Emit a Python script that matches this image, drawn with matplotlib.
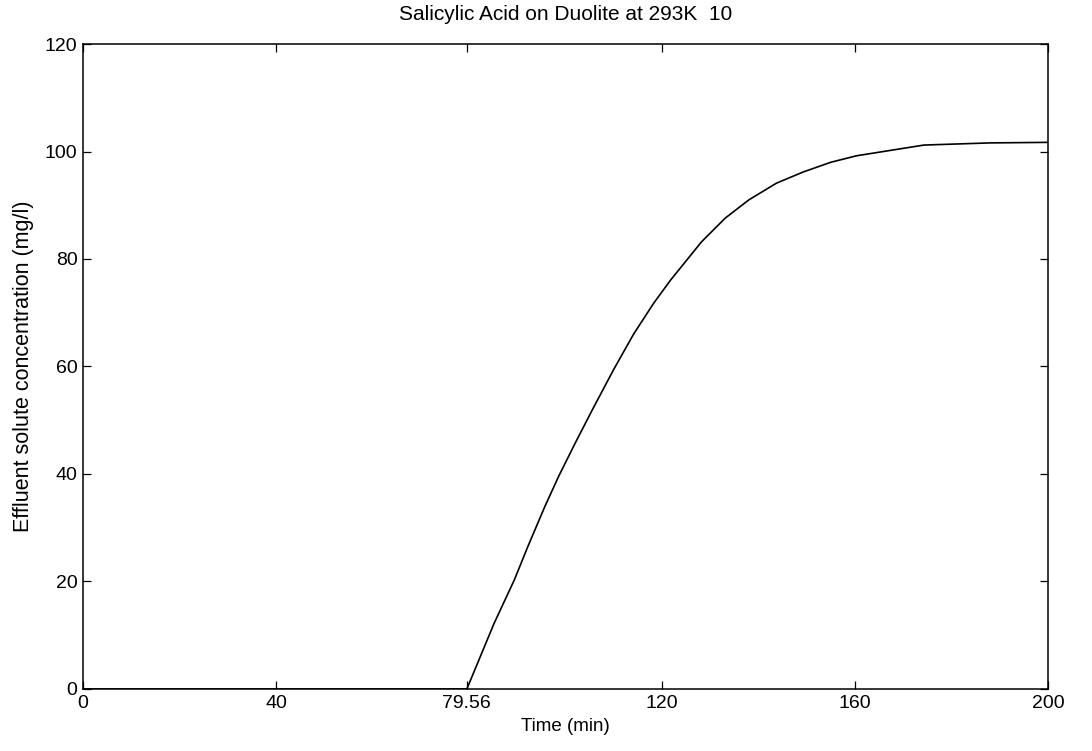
"""Breakthrough curve for salicylic acid on Duolite at 293 K."""

import matplotlib

matplotlib.use("Agg")

import matplotlib.pyplot as plt

plt.rcParams["font.family"] = ["Liberation Sans", "DejaVu Sans"]

# effluent concentration vs time
time_min = [0.0, 79.56, 85.2, 89.4, 92.2, 95.7, 98.6, 102.1, 105.6, 109.9, 114.1,
            118.3, 121.8, 128.2, 133.1, 138.0, 143.7, 149.3, 155.0, 160.3,
            174.3, 188.0, 200.0]
conc_mg_l = [0.0, 0.0, 12.2, 20.3, 26.5, 33.9, 39.6, 45.9, 52.0, 59.3, 66.0,
             71.8, 76.1, 83.2, 87.6, 91.0, 94.1, 96.2, 98.0, 99.2,
             101.2, 101.6, 101.7]

x_ticks = [0, 40, 79.56, 120, 160, 200]
x_tick_labels = ["0", "40", "79.56", "120", "160", "200"]
y_ticks = [0, 20, 40, 60, 80, 100, 120]

fig = plt.figure(figsize=(10.92, 7.51), dpi=100)
ax = fig.add_axes([0.076, 0.0826, 0.8837, 0.8588])

ax.plot(time_min, conc_mg_l, color="black", linewidth=1.2)

ax.set_xlim(0, 200)
ax.set_ylim(0, 120)
ax.set_xticks(x_ticks)
ax.set_xticklabels(x_tick_labels)
ax.set_yticks(y_ticks)
ax.tick_params(direction="in", length=6, width=0.9, labelsize=14,
               top=True, right=True, colors="black", pad=4)
for spine in ax.spines.values():
    spine.set_linewidth(1.1)
    spine.set_color("black")

ax.set_title("Salicylic Acid on Duolite at 293K  10", fontsize=15, pad=17)
ax.set_xlabel("Time (min)", fontsize=13.5, labelpad=5)
ax.set_ylabel("Effluent solute concentration (mg/l)", fontsize=15.5, labelpad=8)

fig.savefig("out.png", dpi=100)
plt.close(fig)
